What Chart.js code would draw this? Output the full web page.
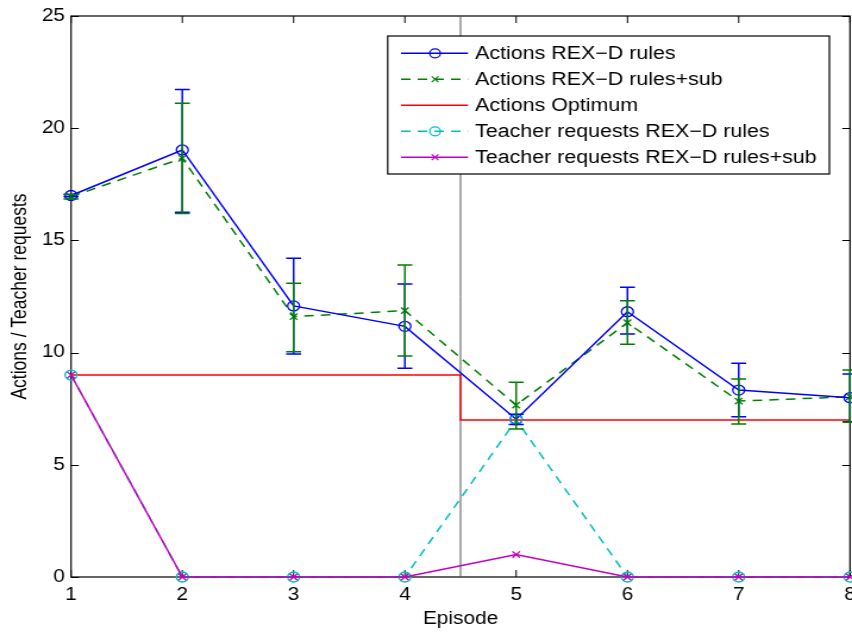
<!DOCTYPE html>
<html>
<head>
<meta charset="utf-8">
<script src="https://cdn.jsdelivr.net/npm/chart.js@4/dist/chart.umd.min.js"></script>
<style>
  html, body { margin: 0; padding: 0; background: #fff; overflow: hidden; }
  #chart { display: block; }
</style>
</head>
<body>
<!-- the figure is drawn on a narrower canvas and widened to the page -->
<canvas id="chart" width="716" height="633" style="width:852px;height:633px"></canvas>
<script>
// ---- data ----
const episodes = [1, 2, 3, 4, 5, 6, 7, 8];

const actionsRules     = [17.0, 19.03, 12.08, 11.17, 7.03, 11.82, 8.33, 7.99];
const actionsRulesLow  = [16.95, 16.25, 9.94, 9.30, 6.80, 10.83, 7.14, 6.92];
const actionsRulesHigh = [17.05, 21.73, 14.20, 13.06, 7.25, 12.91, 9.52, 9.05];

const actionsSub     = [16.95, 18.66, 11.60, 11.87, 7.66, 11.33, 7.84, 8.03];
const actionsSubLow  = [16.85, 16.20, 10.04, 9.85, 6.60, 10.37, 6.82, 6.90];
const actionsSubHigh = [17.05, 21.11, 13.09, 13.90, 8.68, 12.31, 8.82, 9.22];

const optimumEpisodes = [1, 4.5, 4.5, 8];
const optimumActions  = [9, 9, 7, 7];

const requestsRules = [9, 0, 0, 0, 7, 0, 0, 0];
const requestsSub   = [9, 0, 0, 0, 1, 0, 0, 0];

const phaseSwitch = 4.5;
const yTickValues = [0, 5, 10, 15, 20, 25];

// ---- helpers ----
const pts = (xs, ys) => xs.map((x, i) => ({ x, y: ys[i] }));
const FONT = "'Liberation Sans', Arial, Helvetica, sans-serif";

// Error bars with caps, drawn through the chart scales
const errorBars = {
  id: 'errorBars',
  afterDatasetsDraw(chart) {
    const { ctx, scales: { x, y } } = chart;
    const cap = 6.3;
    ctx.save();
    ctx.lineWidth = 1.5;
    chart.data.datasets.forEach(ds => {
      if (!ds.errLow) return;
      ctx.strokeStyle = ds.borderColor;
      ds.data.forEach((p, i) => {
        const px = x.getPixelForValue(p.x);
        const lo = y.getPixelForValue(ds.errLow[i]);
        const hi = y.getPixelForValue(ds.errHigh[i]);
        ctx.beginPath();
        ctx.moveTo(px, lo); ctx.lineTo(px, hi);
        ctx.moveTo(px - cap, lo); ctx.lineTo(px + cap, lo);
        ctx.moveTo(px - cap, hi); ctx.lineTo(px + cap, hi);
        ctx.stroke();
      });
    });
    ctx.restore();
  }
};

// Closed axes box with inward tick marks on all four sides
const axesBox = {
  id: 'axesBox',
  beforeDatasetsDraw(chart) {
    const { ctx, chartArea: a, scales: { x, y } } = chart;
    ctx.save();
    ctx.strokeStyle = '#000';
    ctx.lineWidth = 1.2;
    ctx.strokeRect(a.left, a.top, a.right - a.left, a.bottom - a.top);
    ctx.lineWidth = 1;
    ctx.beginPath();
    x.ticks.forEach(t => {
      const px = x.getPixelForValue(t.value);
      ctx.moveTo(px, a.bottom); ctx.lineTo(px, a.bottom - 7);
      ctx.moveTo(px, a.top); ctx.lineTo(px, a.top + 7);
    });
    y.ticks.forEach(t => {
      const py = Math.round(y.getPixelForValue(t.value)) + 0.5;
      ctx.moveTo(a.left, py); ctx.lineTo(a.left + 6.5, py);
      ctx.moveTo(a.right, py); ctx.lineTo(a.right - 6.5, py);
    });
    ctx.stroke();
    ctx.restore();
  }
};

// Boxed legend with line + marker samples
const boxLegend = {
  id: 'boxLegend',
  afterDraw(chart) {
    const { ctx } = chart;
    const box = { l: 325.8, t: 36, r: 697, b: 174 };
    const rowY0 = 53.3, rowStep = 26;
    const lineL = 337, lineR = 393.3, markX = 365.6, textX = 399.2;
    ctx.save();
    ctx.fillStyle = '#fff';
    ctx.fillRect(box.l, box.t, box.r - box.l, box.b - box.t);
    ctx.strokeStyle = '#000';
    ctx.lineWidth = 1.2;
    ctx.strokeRect(box.l, box.t, box.r - box.l, box.b - box.t);
    const entries = chart.data.datasets.filter(d => d.legendRow !== undefined)
      .sort((a, b) => a.legendRow - b.legendRow);
    ctx.font = `18px ${FONT}`;
    ctx.textBaseline = 'middle';
    ctx.textAlign = 'left';
    entries.forEach((d, i) => {
      const yy = rowY0 + i * rowStep;
      ctx.strokeStyle = d.borderColor;
      ctx.lineWidth = 1.5;
      ctx.setLineDash(d.borderDash || []);
      ctx.beginPath();
      ctx.moveTo(lineL, yy); ctx.lineTo(lineR, yy);
      ctx.stroke();
      ctx.setLineDash([]);
      if (d.pointRadius > 0) {
        ctx.lineWidth = 1.2;
        ctx.fillStyle = 'rgba(0,0,0,0)';
        Chart.helpers.drawPoint(ctx, {
          pointStyle: d.pointStyle, radius: d.pointRadius * 0.9,
          rotation: 0, borderWidth: 1.2
        }, markX, yy);
      }
      ctx.fillStyle = '#000';
      ctx.fillText(d.label, textX, yy + 0.5);
    });
    ctx.restore();
  }
};

const series = (label, data, color, extra) => Object.assign({
  label, data, borderColor: color, backgroundColor: 'rgba(0,0,0,0)',
  pointBorderColor: color, pointBackgroundColor: 'rgba(0,0,0,0)',
  borderWidth: 1.5, pointBorderWidth: 1.3, tension: 0, clip: false,
  pointHoverRadius: 0
}, extra);

const datasets = [
  series('Teacher requests REX\u2212D rules+sub', pts(episodes, requestsSub), '#bf00bf',
    { pointStyle: 'crossRot', pointRadius: 4.5, order: 0, legendRow: 4 }),
  series('Teacher requests REX\u2212D rules', pts(episodes, requestsRules), '#00bfbf',
    { pointStyle: 'circle', pointRadius: 5, borderDash: [8, 6], order: 1, legendRow: 3 }),
  series('Actions REX\u2212D rules', pts(episodes, actionsRules), '#0000ff',
    { pointStyle: 'circle', pointRadius: 5, order: 2, legendRow: 0,
      errLow: actionsRulesLow, errHigh: actionsRulesHigh }),
  series('Actions REX\u2212D rules+sub', pts(episodes, actionsSub), '#008000',
    { pointStyle: 'crossRot', pointRadius: 4.5, borderDash: [8, 6], order: 3, legendRow: 1,
      errLow: actionsSubLow, errHigh: actionsSubHigh }),
  series('Actions Optimum', pts(optimumEpisodes, optimumActions), '#ff0000',
    { pointRadius: 0, order: 4, legendRow: 2 }),
  series('phase switch', pts([phaseSwitch, phaseSwitch], [yTickValues[0], yTickValues[yTickValues.length - 1]]), '#555555',
    { pointRadius: 0, borderWidth: 1, order: 5 })
];

new Chart(document.getElementById('chart'), {
  type: 'line',
  data: { datasets },
  plugins: [axesBox, errorBars, boxLegend],
  options: {
    responsive: false,
    animation: false,
    devicePixelRatio: 1,
    events: [],
    layout: { autoPadding: false, padding: { top: 16, right: 1.7, bottom: 0, left: 0 } },
    plugins: { legend: { display: false }, tooltip: { enabled: false } },
    scales: {
      x: {
        type: 'linear', min: 1, max: 8,
        grid: { display: false, drawTicks: false },
        border: { display: false },
        ticks: { stepSize: 1, padding: 7.5, color: '#000',
                 font: { family: FONT, size: 17.5, lineHeight: 1.2 }, maxRotation: 0 },
        title: { display: true, text: 'Episode', color: '#000',
                 font: { family: FONT, size: 17.5, lineHeight: 1.2 },
                 padding: { top: 0, bottom: 3.5 } },
        afterFit(s) { s.height = 56; s.paddingLeft = 0; s.paddingRight = 0; }
      },
      y: {
        type: 'linear', min: 0, max: 25,
        grid: { display: false, drawTicks: false },
        border: { display: false },
        afterBuildTicks(s) { s.ticks = yTickValues.map(v => ({ value: v })); },
        ticks: { padding: 5.1, color: '#000',
                 font: { family: FONT, size: 17.5, lineHeight: 1.2 } },
        title: { display: true, text: 'Actions / Teacher requests', color: '#000',
                 font: { family: FONT, size: 17.5, lineHeight: 1.2 },
                 padding: { top: 6.3, bottom: 0 } },
        afterFit(s) { s.width = 59.7; s.paddingTop = 0; s.paddingBottom = 0; }
      }
    }
  }
});
</script>
</body>
</html>
